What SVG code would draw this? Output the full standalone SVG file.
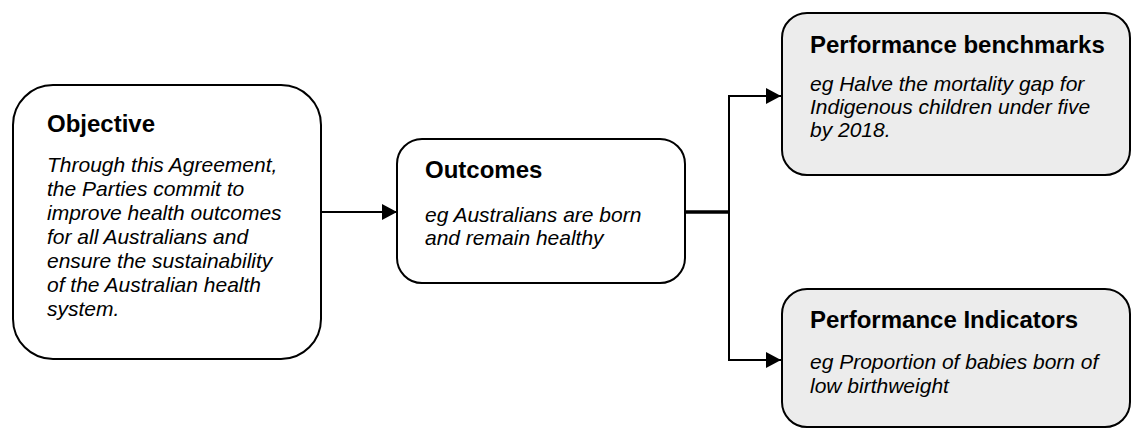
<svg xmlns="http://www.w3.org/2000/svg" width="1132" height="428" viewBox="0 0 1132 428">
<style>
.box{stroke:#000;stroke-width:2;}
.w{fill:#fff;}
.g{fill:#ececec;}
.t{font-family:"Liberation Sans",Arial,sans-serif;font-weight:bold;font-size:24px;fill:#000;}
.b{font-family:"Liberation Sans",Arial,sans-serif;font-style:italic;font-size:21px;fill:#000;}
.c{stroke:#000;fill:none;stroke-width:2;}
.thick{stroke-width:3.5;}
</style>
<defs>
<marker id="ah" markerWidth="16" markerHeight="16" refX="15" refY="8" orient="auto" markerUnits="userSpaceOnUse">
<path d="M0,0 L15,8 L0,16 Z" fill="#000"/>
</marker>
</defs>
<rect width="1132" height="428" fill="#fff"/>
<g id="connectors">
<line class="c" x1="321" y1="212" x2="397" y2="212" marker-end="url(#ah)"/>
<line class="c thick" x1="685" y1="212" x2="729" y2="212"/>
<line class="c" x1="729" y1="95" x2="729" y2="361"/>
<line class="c" x1="728" y1="96" x2="781" y2="96" marker-end="url(#ah)"/>
<line class="c" x1="728" y1="360" x2="781" y2="360" marker-end="url(#ah)"/>
</g>
<g id="objective">
<rect class="box w" x="13" y="85" width="308" height="274" rx="40" ry="40"/>
<text class="t" x="47" y="132">Objective</text>
<text class="b" x="47" y="172">Through this Agreement,</text>
<text class="b" x="47" y="196">the Parties commit to</text>
<text class="b" x="47" y="220">improve health outcomes</text>
<text class="b" x="47" y="244">for all Australians and</text>
<text class="b" x="47" y="268">ensure the sustainability</text>
<text class="b" x="47" y="292">of the Australian health</text>
<text class="b" x="47" y="316">system.</text>
</g>
<g id="outcomes">
<rect class="box w" x="397" y="139" width="288" height="144" rx="25" ry="25"/>
<text class="t" x="425" y="178">Outcomes</text>
<text class="b" x="425" y="222">eg Australians are born</text>
<text class="b" x="425" y="245">and remain healthy</text>
</g>
<g id="benchmarks">
<rect class="box g" x="782" y="13" width="348" height="162" rx="25" ry="25"/>
<text class="t" x="810" y="53">Performance benchmarks</text>
<text class="b" x="810" y="91">eg Halve the mortality gap for</text>
<text class="b" x="810" y="114">Indigenous children under five</text>
<text class="b" x="810" y="137">by 2018.</text>
</g>
<g id="indicators">
<rect class="box g" x="782" y="289" width="348" height="138" rx="25" ry="25"/>
<text class="t" x="810" y="328">Performance Indicators</text>
<text class="b" x="810" y="369">eg Proportion of babies born of</text>
<text class="b" x="810" y="393">low birthweight</text>
</g>
</svg>
